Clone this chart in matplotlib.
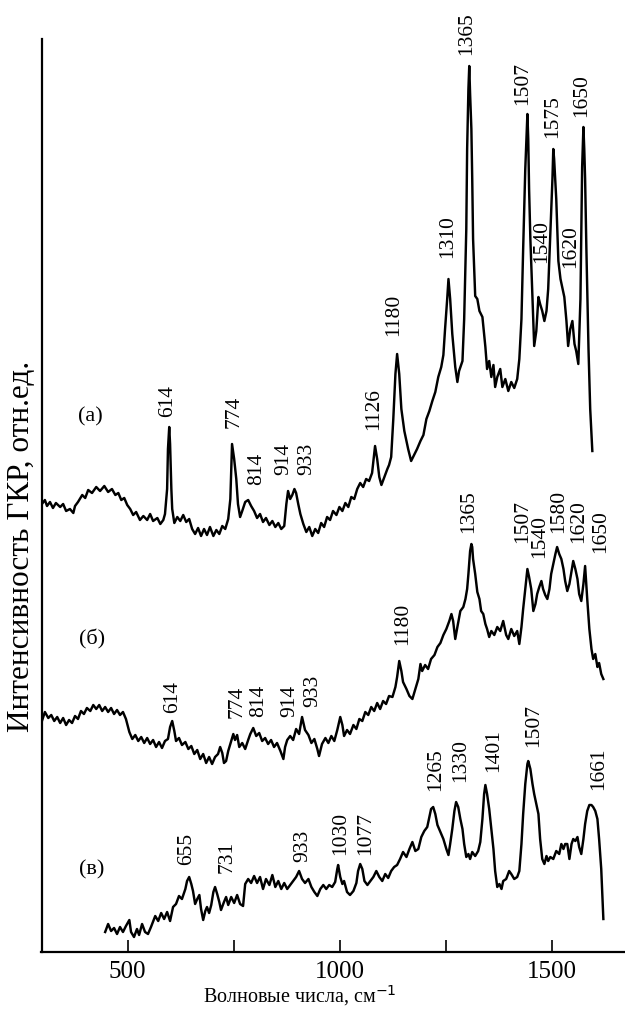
import matplotlib
matplotlib.use("Agg")
import matplotlib.pyplot as plt
from matplotlib.ticker import FixedLocator

plt.rcParams['font.family'] = ['Liberation Serif', 'DejaVu Serif']

# ---------------- data (axis units) ----------------
# Spectrum (a)
a_x = [298, 305, 310, 317, 324, 331, 341, 348, 355, 364, 372, 376, 383, 393, 400, 407, 416, 426, 435, 445,
       454, 463, 471, 478, 485, 492, 499, 506, 513, 520, 529, 537, 546, 553, 560, 570, 577, 584, 588, 593,
       595, 598, 600, 603, 605, 610, 617, 624, 631, 638, 645, 652, 659, 666, 673, 680, 687, 694, 702, 709,
       716, 723, 730, 737, 742, 746, 751, 756, 760, 765, 770, 777, 784, 791, 798, 805, 812, 819, 826, 834,
       841, 848, 855, 862, 869, 874, 878, 883, 888, 893, 897, 902, 907, 914, 921, 928, 935, 942, 949, 956,
       963, 970, 977, 984, 992, 999, 1006, 1013, 1020, 1027, 1034, 1041, 1048, 1055, 1062, 1069, 1076, 1081, 1083, 1088,
       1093, 1098, 1105, 1112, 1116, 1121, 1126, 1131, 1135, 1140, 1145, 1152, 1161, 1168, 1175, 1182, 1190, 1197, 1204, 1211,
       1218, 1225, 1232, 1239, 1244, 1248, 1253, 1256, 1260, 1265, 1272, 1277, 1281, 1289, 1293, 1298, 1300, 1303, 1305, 1307,
       1310, 1312, 1314, 1319, 1324, 1329, 1336, 1343, 1347, 1352, 1357, 1362, 1366, 1371, 1378, 1383, 1390, 1397, 1404, 1411,
       1418, 1423, 1428, 1432, 1437, 1442, 1444, 1446, 1449, 1454, 1458, 1463, 1468, 1472, 1477, 1482, 1487, 1491, 1496, 1501,
       1503, 1505, 1510, 1515, 1520, 1524, 1529, 1534, 1538, 1543, 1548, 1553, 1557, 1562, 1567, 1571, 1574, 1576, 1578, 1581,
       1586, 1590, 1595]
a_y = [448, 452, 446, 450, 444, 449, 445, 448, 441, 443, 439, 446, 450, 457, 454, 462, 459, 465, 461, 466,
       460, 463, 457, 459, 452, 454, 447, 443, 437, 440, 432, 436, 432, 438, 431, 434, 428, 432, 438, 463,
       503, 525, 508, 463, 443, 429, 435, 431, 437, 430, 433, 423, 418, 424, 416, 423, 417, 425, 416, 422,
       418, 426, 423, 433, 453, 508, 493, 473, 448, 435, 441, 450, 452, 446, 441, 434, 438, 430, 434, 427,
       431, 425, 429, 423, 426, 448, 461, 453, 457, 463, 459, 448, 438, 428, 420, 425, 416, 423, 419, 429,
       425, 435, 432, 441, 437, 445, 441, 449, 445, 455, 453, 463, 469, 465, 473, 471, 479, 498, 506, 493,
       475, 467, 475, 483, 487, 495, 533, 578, 598, 578, 543, 521, 503, 491, 497, 503, 511, 517, 533, 541,
       551, 560, 575, 585, 597, 623, 653, 673, 653, 618, 585, 570, 581, 591, 633, 723, 803, 863, 886, 858,
       823, 773, 713, 656, 653, 641, 635, 605, 583, 591, 575, 587, 565, 575, 583, 565, 573, 561, 570, 564,
       573, 593, 633, 703, 783, 838, 813, 763, 713, 653, 606, 621, 655, 648, 641, 631, 641, 663, 718, 773,
       803, 793, 753, 691, 673, 665, 655, 631, 606, 623, 631, 608, 601, 588, 653, 785, 825, 803, 773, 703,
       603, 543, 501]

# Spectrum (б)
b_x = [298, 305, 313, 320, 327, 334, 341, 348, 355, 362, 369, 376, 383, 390, 397, 404, 412, 419, 426, 433,
       440, 447, 454, 461, 468, 475, 482, 489, 496, 504, 511, 518, 525, 532, 539, 546, 553, 560, 567, 574,
       581, 588, 595, 600, 605, 610, 614, 621, 628, 636, 643, 650, 657, 664, 671, 678, 685, 692, 699, 706,
       713, 718, 723, 727, 732, 737, 742, 749, 753, 758, 763, 770, 777, 784, 789, 796, 803, 810, 817, 824,
       831, 838, 845, 852, 860, 867, 871, 876, 883, 890, 897, 904, 911, 918, 926, 933, 940, 947, 951, 958,
       966, 973, 980, 987, 994, 1001, 1006, 1010, 1017, 1024, 1032, 1039, 1046, 1053, 1060, 1067, 1074, 1081, 1088, 1095,
       1102, 1109, 1116, 1124, 1131, 1135, 1140, 1145, 1149, 1157, 1164, 1171, 1178, 1185, 1190, 1194, 1201, 1208, 1215, 1223,
       1230, 1237, 1244, 1251, 1258, 1263, 1267, 1272, 1277, 1284, 1291, 1296, 1300, 1303, 1307, 1310, 1312, 1314, 1319, 1324,
       1329, 1333, 1338, 1343, 1347, 1352, 1357, 1364, 1371, 1378, 1385, 1392, 1397, 1404, 1411, 1418, 1423, 1428, 1432, 1437,
       1442, 1446, 1451, 1456, 1461, 1465, 1470, 1475, 1479, 1484, 1489, 1494, 1498, 1503, 1508, 1512, 1517, 1522, 1527, 1531,
       1536, 1541, 1546, 1550, 1555, 1560, 1564, 1569, 1574, 1578, 1583, 1588, 1593, 1597, 1602, 1607, 1611, 1616, 1621]
b_y = [231, 240, 234, 237, 231, 235, 229, 234, 227, 232, 229, 236, 233, 241, 238, 244, 241, 247, 243, 247,
       241, 245, 240, 244, 238, 242, 237, 240, 233, 220, 213, 217, 211, 215, 209, 214, 208, 212, 205, 210,
       204, 211, 213, 225, 231, 221, 211, 214, 207, 210, 203, 206, 198, 202, 193, 198, 189, 195, 188, 195,
       198, 205, 199, 189, 191, 201, 208, 218, 212, 217, 205, 209, 203, 212, 218, 224, 216, 219, 211, 214,
       208, 212, 205, 209, 201, 193, 205, 212, 216, 212, 223, 218, 235, 222, 217, 209, 213, 203, 196, 208,
       214, 209, 216, 211, 222, 235, 227, 216, 222, 218, 227, 223, 233, 231, 240, 237, 245, 241, 249, 243,
       251, 248, 256, 255, 265, 275, 291, 281, 270, 263, 256, 253, 263, 273, 288, 281, 287, 283, 293, 297,
       305, 309, 317, 323, 331, 338, 331, 313, 325, 341, 345, 353, 363, 378, 401, 408, 405, 393, 378, 360,
       353, 341, 338, 328, 323, 315, 321, 317, 325, 321, 331, 317, 313, 323, 316, 321, 308, 325, 343, 363,
       383, 375, 363, 341, 348, 358, 365, 371, 363, 357, 353, 363, 378, 388, 398, 405, 398, 393, 383, 371,
       361, 368, 381, 391, 383, 373, 358, 351, 368, 386, 353, 323, 303, 293, 298, 285, 289, 278, 273]

# Spectrum (в)
c_x = [447, 454, 461, 468, 475, 482, 489, 496, 504, 508, 515, 522, 527, 534, 541, 548, 555, 565, 572, 579,
       586, 593, 600, 607, 614, 621, 628, 636, 640, 645, 650, 654, 659, 664, 669, 673, 678, 683, 687, 692,
       697, 702, 706, 711, 716, 720, 727, 732, 737, 744, 751, 758, 765, 772, 777, 784, 791, 798, 805, 812,
       819, 826, 834, 841, 848, 855, 862, 869, 876, 883, 890, 897, 904, 911, 918, 926, 933, 940, 947, 954,
       961, 968, 975, 982, 989, 994, 996, 1001, 1006, 1010, 1017, 1024, 1032, 1039, 1043, 1048, 1053, 1058, 1065, 1072,
       1079, 1086, 1093, 1100, 1107, 1114, 1121, 1128, 1135, 1142, 1149, 1157, 1164, 1171, 1178, 1185, 1192, 1199, 1206, 1211,
       1215, 1220, 1225, 1230, 1237, 1244, 1251, 1256, 1260, 1265, 1270, 1274, 1279, 1284, 1289, 1293, 1298, 1303, 1307, 1312,
       1319, 1326, 1331, 1336, 1340, 1343, 1347, 1352, 1357, 1362, 1366, 1371, 1376, 1381, 1385, 1392, 1399, 1404, 1411, 1418,
       1423, 1428, 1432, 1437, 1442, 1444, 1449, 1454, 1458, 1463, 1468, 1472, 1477, 1482, 1487, 1491, 1496, 1503, 1510, 1517,
       1522, 1527, 1531, 1536, 1541, 1546, 1550, 1555, 1560, 1564, 1569, 1574, 1578, 1583, 1588, 1593, 1597, 1602, 1607, 1611,
       1616, 1621]
c_y = [20, 28, 21, 24, 18, 25, 20, 26, 32, 20, 15, 23, 17, 28, 20, 18, 25, 36, 31, 39,
       33, 40, 31, 45, 48, 56, 53, 63, 71, 75, 68, 61, 48, 53, 57, 43, 32, 41, 45, 39,
       47, 60, 65, 58, 50, 42, 50, 55, 47, 55, 49, 57, 48, 46, 68, 73, 69, 76, 69, 75,
       63, 73, 67, 77, 65, 71, 63, 69, 63, 67, 71, 75, 81, 73, 69, 73, 65, 60, 56, 63,
       67, 63, 67, 65, 70, 83, 87, 75, 68, 71, 60, 57, 61, 69, 81, 88, 83, 71, 67, 71,
       75, 81, 75, 71, 78, 74, 81, 85, 87, 93, 100, 95, 103, 110, 101, 103, 115, 121, 125, 135,
       143, 145, 138, 127, 120, 113, 103, 97, 108, 123, 141, 150, 145, 133, 123, 108, 95, 98, 93, 100,
       96, 101, 110, 133, 158, 167, 158, 143, 123, 103, 81, 65, 68, 63, 71, 73, 81, 78, 73, 75,
       81, 108, 138, 168, 188, 191, 183, 168, 158, 148, 138, 113, 93, 88, 96, 91, 95, 93, 101, 98,
       108, 103, 108, 108, 93, 108, 113, 111, 115, 105, 98, 113, 128, 141, 147, 147, 145, 141, 133, 113,
       83, 33]

# Peak annotations: (label, x, y of the label's lower end)
a_labels = ["614", "774", "814", "914", "933", "1126", "1180", "1310", "1365", "1507", "1540", "1575", "1620", "1650"]
a_lx = [595, 751, 805, 867, 923, 1079, 1128, 1253, 1300, 1432, 1475, 1501, 1543, 1571]
a_ly = [536, 525, 468, 478, 478, 523, 617, 695, 898, 848, 690, 815, 685, 836]

b_labels = ["614", "774", "814", "914", "933", "1180", "1365", "1507", "1540", "1580", "1620", "1650"]
b_lx = [605, 758, 808, 883, 937, 1147, 1303, 1430, 1472, 1515, 1564, 1614]
b_ly = [240, 235, 236, 236, 246, 308, 420, 410, 395, 420, 410, 400]

c_labels = ["655", "731", "933", "1030", "1077", "1265", "1330", "1401", "1507", "1661"]
c_lx = [640, 735, 913, 1001, 1060, 1225, 1284, 1362, 1456, 1609]
c_ly = [88, 80, 91, 98, 98, 162, 171, 181, 206, 163]

panel_names = ["(а)", "(б)", "(в)"]
panel_x = [412, 416, 416]
panel_y = [536, 314, 83]

major_ticks = [500, 1000, 1500]
minor_ticks = [750, 1250]

# ---------------- figure ----------------
W, H = 625, 1012
fig = plt.figure(figsize=(W / 100, H / 100), dpi=100)
ax = fig.add_axes([41.5 / W, (H - 953) / H, (W - 41.5) / W, 913 / H])

for xs, ys in ((a_x, a_y), (b_x, b_y), (c_x, c_y)):
    ax.plot(xs, ys, color='black', lw=1.75, solid_joinstyle='round')

for labs, lx, ly in ((a_labels, a_lx, a_ly), (b_labels, b_lx, b_ly), (c_labels, c_lx, c_ly)):
    for t, x, y in zip(labs, lx, ly):
        ax.text(x, y, t, rotation=90, ha='center', va='bottom', fontsize=15.5)

for t, x, y in zip(panel_names, panel_x, panel_y):
    ax.text(x, y, t, ha='center', va='center', fontsize=16)

ax.set_xlim(297, 1672)
ax.set_ylim(0, 913)
ax.xaxis.set_major_locator(FixedLocator(major_ticks))
ax.xaxis.set_minor_locator(FixedLocator(minor_ticks))
ax.tick_params(axis='x', which='both', direction='in', length=9, width=1.2, pad=6, labelsize=18)
ax.set_yticks([])
for s in ('top', 'right'):
    ax.spines[s].set_visible(False)
ax.spines['left'].set_linewidth(1.6)
ax.spines['bottom'].set_linewidth(1.6)

ax.set_xlabel("Волновые числа, см$^{-1}$", fontsize=14.5)
ax.xaxis.set_label_coords((300 - 41.5) / (W - 41.5), (953 - 996) / 913)
ax.xaxis.label.set_va('center')
ax.set_ylabel("Интенсивность ГКР, отн.ед.", fontsize=22.5)
ax.yaxis.set_label_coords((22 - 41.5) / (W - 41.5), (953 - 546) / 913)
ax.yaxis.label.set_va('center')

fig.savefig("out.png", dpi=100)
